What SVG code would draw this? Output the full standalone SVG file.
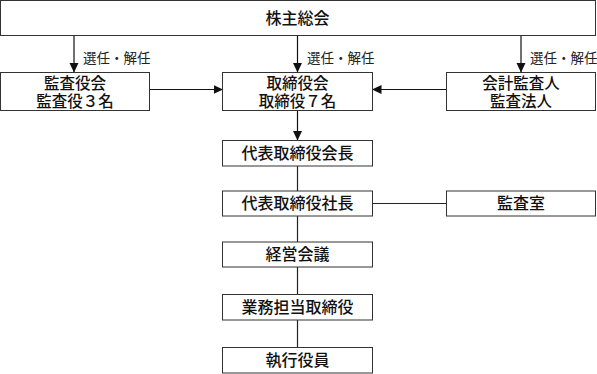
<svg xmlns="http://www.w3.org/2000/svg" width="597" height="374" viewBox="0 0 597 374">
<defs>
<marker id="ah" markerWidth="10" markerHeight="10" refX="9" refY="5" orient="auto" markerUnits="userSpaceOnUse">
<path d="M0,0.5 L9.5,5 L0,9.5 Z" fill="#111"/>
</marker>
<style>
.box{fill:#fff;stroke:#333;stroke-width:1}
.t{font-family:"Liberation Sans","Noto Sans CJK JP","Noto Sans CJK SC",sans-serif;font-size:16px;font-weight:500;fill:#111;text-anchor:middle;dominant-baseline:central}
.t2{font-size:15.5px}
.lbl{font-family:"Noto Sans CJK JP","Noto Sans CJK SC",sans-serif;font-size:13.5px;fill:#222;dominant-baseline:central}
.c{stroke:#222;stroke-width:1.2;fill:none}
.ca{stroke:#111;stroke-width:1.2;fill:none;marker-end:url(#ah)}
</style>
</defs>
<rect width="597" height="374" fill="#fff"/>
<g id="connectors">
<line class="ca" x1="74" y1="35.5" x2="74" y2="72"/>
<line class="ca" x1="297.5" y1="35.5" x2="297.5" y2="72"/>
<line class="ca" x1="521" y1="35.5" x2="521" y2="72"/>
<line class="ca" x1="149.5" y1="89.5" x2="222.5" y2="89.5"/>
<line class="ca" x1="446.5" y1="89.5" x2="372.5" y2="89.5"/>
<line class="ca" x1="297.5" y1="110.5" x2="297.5" y2="140"/>
<line class="c" x1="297.5" y1="166" x2="297.5" y2="347"/>
<line class="c" x1="372.5" y1="203.5" x2="446.5" y2="203.5"/>
<text class="lbl" x="83" y="57">選任・解任</text>
<text class="lbl" x="307" y="57">選任・解任</text>
<text class="lbl" x="530" y="57">選任・解任</text>
</g>
<g id="n-agm"><rect class="box" x="0.5" y="0.5" width="595" height="35"/><text class="t" x="297.5" y="18">株主総会</text></g>
<g id="n-auditboard"><rect class="box" x="0.5" y="72.5" width="149" height="38"/><text class="t t2" x="75" y="83.3">監査役会</text><text class="t t2" x="75" y="101">監査役３名</text></g>
<g id="n-board"><rect class="box" x="222.5" y="72.5" width="150" height="38"/><text class="t t2" x="297.5" y="83.3">取締役会</text><text class="t t2" x="297.5" y="101">取締役７名</text></g>
<g id="n-accountant"><rect class="box" x="446.5" y="72.5" width="149" height="38"/><text class="t t2" x="521" y="83.3">会計監査人</text><text class="t t2" x="521" y="101">監査法人</text></g>
<g id="n-chairman"><rect class="box" x="222.5" y="140.5" width="150" height="25.5"/><text class="t" x="297.5" y="153.5">代表取締役会長</text></g>
<g id="n-president"><rect class="box" x="222.5" y="191" width="150" height="25"/><text class="t" x="297.5" y="203.5">代表取締役社長</text></g>
<g id="n-auditoffice"><rect class="box" x="446.5" y="191" width="149" height="25"/><text class="t" x="521" y="203.5">監査室</text></g>
<g id="n-mgmt"><rect class="box" x="222.5" y="242" width="150" height="25"/><text class="t" x="297.5" y="254.5">経営会議</text></g>
<g id="n-directors"><rect class="box" x="222.5" y="294.5" width="150" height="25.5"/><text class="t" x="297.5" y="307.5">業務担当取締役</text></g>
<g id="n-officers"><rect class="box" x="222.5" y="347.5" width="150" height="25.5"/><text class="t" x="297.5" y="360.5">執行役員</text></g>
</svg>
